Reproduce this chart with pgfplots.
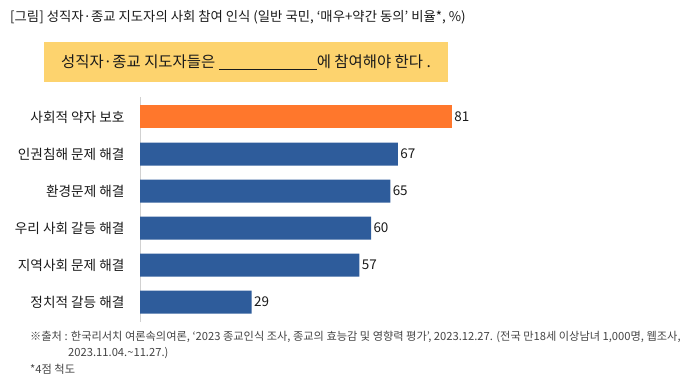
\documentclass[border=0pt]{standalone}
\usepackage{pgfplots}
\pgfplotsset{compat=1.18}
\usepackage{fontspec}
\setmainfont{Noto Sans CJK KR}
\definecolor{orng}{HTML}{FF772C}
\definecolor{blu}{HTML}{2E5C9B}
\definecolor{ylw}{HTML}{FDD36E}
\definecolor{txt}{HTML}{1A1A1A}
\definecolor{note}{HTML}{444444}
\begin{document}
\begin{tikzpicture}[x=1bp,y=-1bp]
\path (0,0) rectangle (694,387);
\node[anchor=west, inner sep=0pt, text=txt, font=\fontsize{13.4}{15}\selectfont] at (10,17) {[그림] 성직자·종교 지도자의 사회 참여 인식 (일반 국민, ‘매우+약간 동의’ 비율*, \%)};
\fill[ylw] (44,42) rectangle (448,82);
\node[inner sep=0pt, text=txt, font=\fontsize{15.5}{17}\selectfont] at (246,62) {성직자·종교 지도자들은 \rule[-1.5pt]{98bp}{0.6pt}에 참여해야 한다 .};
\coordinate (A) at (140,97);
\begin{axis}[at={(A)}, anchor=north west,
  scale only axis, width=385bp, height=225bp,
  xmin=0, xmax=100, ymin=-0.54, ymax=5.54, y dir=reverse,
  xbar, bar width=23bp, bar shift=0pt,
  axis x line=none, axis y line*=left,
  y axis line style={draw=black!18, line width=1pt, -},
  ytick={0,1,2,3,4,5}, major tick length=0pt,
  yticklabels={사회적 약자 보호, 인권침해 문제 해결, 환경문제 해결, 우리 사회 갈등 해결, 지역사회 문제 해결, 정치적 갈등 해결},
  yticklabel style={font=\fontsize{13.7}{15}\selectfont, text=txt, xshift=-12bp},
  nodes near coords, nodes near coords align={horizontal},
  every node near coord/.append style={font=\fontsize{13.5}{15}\selectfont, text=txt, xshift=-1bp},
  /pgf/number format/assume math mode=true,
]
\addplot[fill=orng, draw=none] coordinates {(81,0)};
\addplot[fill=blu, draw=none] coordinates {(67,1) (65,2) (60,3) (57,4) (29,5)};
\end{axis}
\node[anchor=west, inner sep=0pt, text=note, font=\fontsize{11.25}{13}\selectfont] at (30,337) {※출처 : 한국리서치 여론속의여론, ‘2023 종교인식 조사, 종교의 효능감 및 영향력 평가’, 2023.12.27. (전국 만18세 이상남녀 1,000명, 웹조사,};
\node[anchor=west, inner sep=0pt, text=note, font=\fontsize{11.25}{13}\selectfont] at (68,353) {2023.11.04.\textasciitilde 11.27.)};
\node[anchor=west, inner sep=0pt, text=note, font=\fontsize{11.25}{13}\selectfont] at (30,369) {*4점 척도};
\end{tikzpicture}
\end{document}
